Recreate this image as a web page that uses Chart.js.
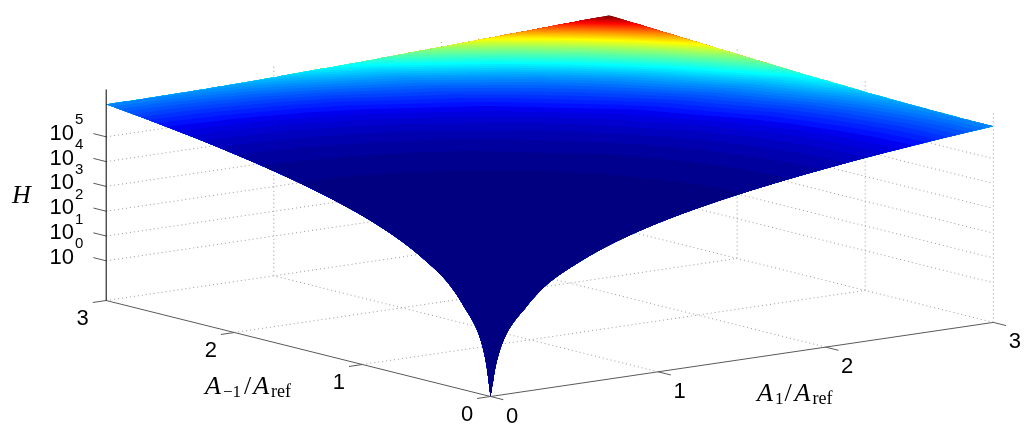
<!DOCTYPE html>
<html>
<head>
<meta charset="utf-8">
<title>H surface</title>
<script src="https://cdn.jsdelivr.net/npm/chart.js@4"></script>
<style>
  html, body { margin: 0; padding: 0; background: #fff; overflow: hidden; }
  #chart { display: block; }
</style>
</head>
<body>
<canvas id="chart" width="1035" height="442"></canvas>
<script>
// axis ticks
const a1Ticks = [0, 1, 2, 3];
const aMinus1Ticks = [0, 1, 2, 3];
const hTickExponents = [0, 1, 2, 3, 4, 5];
const zBottom = -1.6;
const zTop = 6.91;

// sample positions along A1/Aref and A-1/Aref
const gridA = [0, 0.015, 0.03, 0.06, 0.1, 0.2, 0.35, 0.5, 0.75, 1, 1.5, 2, 2.25, 2.5, 2.75, 3];

// log10(H). Surface is symmetric, each row starts on the diagonal
const logH00 = [-1.6, -1.0, -0.42, 0.3, 0.9, 1.7, 2.65, 3.2, 3.9, 4.4, 5.1, 5.6, 5.81, 5.99, 6.16, 6.31];
const logH01 = [-0.75, -0.35, 0.33, 0.9, 1.7, 2.65, 3.2, 3.9, 4.4, 5.1, 5.6, 5.81, 5.99, 6.16, 6.31];
const logH02 = [-0.15, 0.4, 0.93, 1.72, 2.66, 3.2, 3.9, 4.4, 5.1, 5.6, 5.81, 5.99, 6.16, 6.31];
const logH03 = [0.62, 1.03, 1.76, 2.67, 3.21, 3.91, 4.4, 5.1, 5.6, 5.81, 5.99, 6.16, 6.31];
const logH04 = [1.3, 1.88, 2.7, 3.23, 3.92, 4.41, 5.11, 5.6, 5.81, 5.99, 6.16, 6.31];
const logH05 = [2.25, 2.85, 3.32, 3.96, 4.43, 5.12, 5.61, 5.82, 6.0, 6.16, 6.31];
const logH06 = [3.18, 3.54, 4.07, 4.5, 5.15, 5.63, 5.83, 6.01, 6.17, 6.32];
const logH07 = [3.8, 4.22, 4.59, 5.2, 5.66, 5.85, 6.03, 6.19, 6.33];
const logH08 = [4.5, 4.79, 5.3, 5.72, 5.9, 6.07, 6.22, 6.36];
const logH09 = [5.0, 5.42, 5.8, 5.97, 6.12, 6.27, 6.4];
const logH10 = [5.71, 5.99, 6.13, 6.26, 6.38, 6.5];
const logH11 = [6.21, 6.31, 6.42, 6.53, 6.63];
const logH12 = [6.41, 6.51, 6.6, 6.7];
const logH13 = [6.59, 6.68, 6.77];
const logH14 = [6.76, 6.84];
const logH15 = [6.91];
const logHRows = [logH00, logH01, logH02, logH03, logH04, logH05, logH06, logH07,
  logH08, logH09, logH10, logH11, logH12, logH13, logH14, logH15];

// view of the 3d box on the page
function project(a1, am1, z) {
  return {
    x: 490.5 + 167.6 * a1 - 128.1 * am1,
    y: 396.5 - 24.7 * a1 - 32 * am1 - 24.8 * (z - zBottom)
  };
}

function nodeValue(i, j) {
  const lo = Math.min(i, j), hi = Math.max(i, j);
  return logHRows[lo][hi - lo];
}

// position in the sample grid, log spaced so the steep part near 0 stays smooth
function gridPos(v) {
  let i = 0;
  while (i < gridA.length - 2 && v > gridA[i + 1]) i++;
  const u0 = Math.log(gridA[i] + 0.03), u1 = Math.log(gridA[i + 1] + 0.03);
  return { i, f: (Math.log(v + 0.03) - u0) / (u1 - u0) };
}

function surfaceZ(a1, am1) {
  const p = gridPos(a1), q = gridPos(am1);
  const z0 = nodeValue(p.i, q.i) * (1 - p.f) + nodeValue(p.i + 1, q.i) * p.f;
  const z1 = nodeValue(p.i, q.i + 1) * (1 - p.f) + nodeValue(p.i + 1, q.i + 1) * p.f;
  return z0 * (1 - q.f) + z1 * q.f;
}

// jet with 64 steps, the low end starts at half blue like the reference
function jetColor(i) {
  const u = k => k < 1 || k > 47 ? 0 : k <= 16 ? k / 16 : k <= 31 ? 1 : (48 - k) / 16;
  const c = v => Math.round(v * 255);
  const blue = i <= 8 ? 0.5 + (i - 1) / 16 : u(i + 8);
  return `rgb(${c(u(i - 24))},${c(u(i - 8))},${c(blue)})`;
}

// region of the surface below one H level, as a closed outline
function levelOutline(level) {
  const pts = [];
  const rim = [];
  for (let i = 0; i <= 120; i++) rim.push([3, 3 * i / 120]);
  for (let i = 119; i >= 0; i--) rim.push([3 * i / 120, 3]);

  const curve = rim.map(([a, b]) => {
    let t = 1;
    if (surfaceZ(a, b) > level) {
      let lo = 0, hi = 1;
      for (let n = 0; n < 30; n++) {
        const mid = (lo + hi) / 2;
        if (surfaceZ(a * mid, b * mid) > level) hi = mid; else lo = mid;
      }
      t = lo;
    }
    return [a * t, b * t];
  });

  const first = curve[0][0], last = curve[curve.length - 1][1];
  for (let i = 0; i < 80; i++) {
    const a = first * (i / 80) * (i / 80);
    pts.push(project(a, 0, surfaceZ(a, 0)));
  }
  curve.forEach(([a, b]) => pts.push(project(a, b, surfaceZ(a, b))));
  for (let i = 79; i >= 0; i--) {
    const b = last * (i / 80) * (i / 80);
    pts.push(project(0, b, surfaceZ(0, b)));
  }
  return pts;
}

function lineSet(points, color, width, dash) {
  return {
    data: points, showLine: true, fill: false, pointRadius: 0,
    borderColor: color, borderWidth: width, borderDash: dash || [], borderCapStyle: 'butt'
  };
}

const solidColor = '#5a5a5a';
const gridColor = '#999999';
const dotted = [1, 3];

// top of the stack first, chart.js paints the first dataset last
const axisSets = [];
axisSets.push(lineSet([project(0, 3, zBottom), project(0, 3, zTop)], '#000000', 1));
axisSets.push(lineSet([project(0, 0, zBottom), project(3, 0, zBottom)], solidColor, 1));
axisSets.push(lineSet([project(0, 0, zBottom), project(0, 3, zBottom)], solidColor, 1));
a1Ticks.forEach(t => axisSets.push(lineSet([project(t, 0, zBottom), project(t, -0.1, zBottom)], solidColor, 1)));
aMinus1Ticks.forEach(t => axisSets.push(lineSet([project(0, t, zBottom), project(-0.08, t, zBottom)], solidColor, 1)));
hTickExponents.forEach(e => axisSets.push(lineSet([project(0, 3, e), project(0, 3.1, e)], solidColor, 1)));

const surfaceSets = [];
const hMax = Math.pow(10, zTop);
for (let k = 1; k <= 64; k++) {
  surfaceSets.push({
    data: levelOutline(Math.log10(hMax * k / 64)),
    showLine: true, fill: 'shape', pointRadius: 0, borderWidth: 0,
    backgroundColor: jetColor(k), borderColor: jetColor(k)
  });
}

const gridSets = [];
a1Ticks.slice(1).forEach(t => {
  gridSets.push(lineSet([project(t, 0, zBottom), project(t, 3, zBottom)], gridColor, 1, dotted));
  gridSets.push(lineSet([project(t, 3, zBottom), project(t, 3, zTop)], gridColor, 1, dotted));
});
aMinus1Ticks.slice(1).forEach(t => {
  gridSets.push(lineSet([project(0, t, zBottom), project(3, t, zBottom)], gridColor, 1, dotted));
  gridSets.push(lineSet([project(3, t, zBottom), project(3, t, zTop)], gridColor, 1, dotted));
});
gridSets.push(lineSet([project(3, 0, zBottom), project(3, 0, zTop)], gridColor, 1, dotted));
hTickExponents.forEach(e => {
  gridSets.push(lineSet([project(0, 3, e), project(3, 3, e)], gridColor, 1, dotted));
  gridSets.push(lineSet([project(3, 3, e), project(3, 0, e)], gridColor, 1, dotted));
});

const sansFont = '"Liberation Sans", Arial, sans-serif';
const serifFont = '"Liberation Serif", "Times New Roman", serif';

// one run of math text, pieces are [text, italic, size, drop, gap after]
function drawMath(ctx, x, y, pieces) {
  ctx.textAlign = 'left';
  ctx.textBaseline = 'alphabetic';
  pieces.forEach(([text, italic, size, drop, gap]) => {
    ctx.font = `${italic ? 'italic ' : ''}${size}px ${serifFont}`;
    ctx.fillText(text, x, y + drop);
    x += ctx.measureText(text).width + gap;
  });
}

const axisText = {
  id: 'axisText',
  afterDatasetsDraw(chart) {
    const { ctx, scales } = chart;
    const at = (p, dx, dy) => [scales.x.getPixelForValue(p.x) + dx, scales.y.getPixelForValue(p.y) + dy];
    ctx.save();
    ctx.fillStyle = '#000';
    ctx.textAlign = 'center';
    ctx.textBaseline = 'middle';
    ctx.font = `22px ${sansFont}`;
    a1Ticks.forEach(t => {
      const [x, y] = at(project(t, 0, zBottom), 21.5, 20);
      ctx.fillText(String(t), x, y);
    });
    aMinus1Ticks.forEach(t => {
      const [x, y] = at(project(0, t, zBottom), -23.5, 18);
      ctx.fillText(String(t), x, y);
    });
    hTickExponents.forEach(e => {
      const [x, y] = at(project(0, 3, e), -44.5, -3);
      ctx.font = `22px ${sansFont}`;
      ctx.fillText('10', x, y);
      ctx.font = `15px ${sansFont}`;
      ctx.fillText(String(e), x + 17.5, y - 13.5);
    });
    drawMath(ctx, 12, 203, [['H', true, 26, 0, 0]]);
    drawMath(ctx, 205, 394, [['A', true, 26, 0, 2], ['\u22121', false, 17, 3, 3], ['/', false, 26, 0, 2], ['A', true, 26, 0, 2], ['ref', false, 18, 3, 0]]);
    drawMath(ctx, 757, 401, [['A', true, 26, 0, 2], ['1', false, 17, 3, 1], ['/', false, 26, 0, 3], ['A', true, 26, 0, 2], ['ref', false, 18, 3, 0]]);
    ctx.restore();
  }
};

new Chart(document.getElementById('chart'), {
  type: 'scatter',
  data: { datasets: [...axisSets, ...surfaceSets, ...gridSets] },
  options: {
    responsive: false,
    animation: false,
    events: [],
    layout: { padding: 0 },
    scales: {
      x: { type: 'linear', min: 0, max: 1035, display: false },
      y: { type: 'linear', min: 0, max: 442, reverse: true, display: false }
    },
    plugins: { legend: { display: false }, tooltip: { enabled: false } }
  },
  plugins: [axisText]
});
</script>
</body>
</html>
